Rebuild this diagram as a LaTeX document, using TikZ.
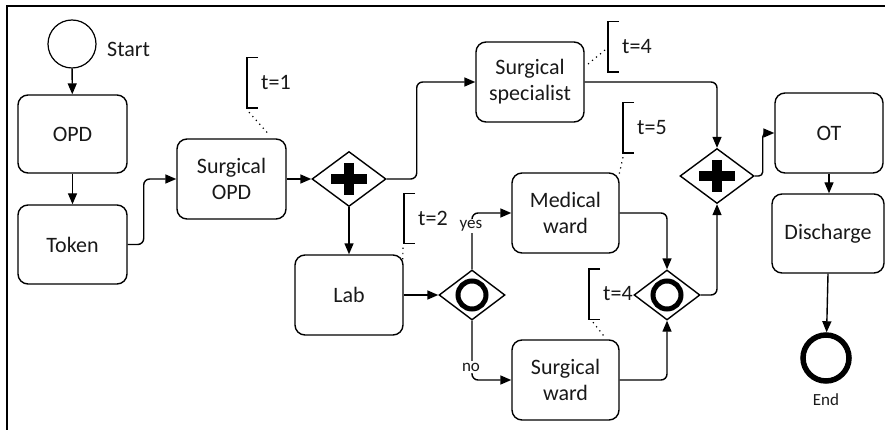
\documentclass[tikz,border=0pt]{standalone}
\usepackage{fontspec}
\setmainfont{Carlito}
\usetikzlibrary{arrows.meta,shapes.geometric,calc}
\begin{document}
\begin{tikzpicture}[x=1pt,y=-1pt,
  every node/.style={font=\fontsize{22}{26}\selectfont, align=center, text=black!90},
  task/.style={draw, rounded corners=10pt, line width=1.4pt, minimum width=108pt, minimum height=80pt, inner sep=0pt},
  gate/.style={draw, diamond, line width=1.4pt, minimum width=74pt, minimum height=55pt, inner sep=0pt},
  xgate/.style={gate, minimum width=66pt, minimum height=50pt},
  flow/.style={line width=1.4pt, -{Triangle[length=11pt,width=9pt]}, rounded corners=6pt},
  ann/.style={anchor=west, minimum height=50pt, inner xsep=14pt, inner ysep=0pt},
  bracket/.style={line width=1.4pt},
  assoc/.style={line width=1.2pt, dash pattern=on 1.2pt off 4pt},
  small/.style={font=\fontsize{17}{20}\selectfont},
  plusbar/.style={line width=10pt},
  ring/.style={line width=5pt}
]
\useasboundingbox (0,0) rectangle (885,430);
% frame
\draw[line width=2pt] (7,430) -- (7,6) -- (885,6);

% events
\node[circle, draw, line width=1.2pt, minimum size=48pt, inner sep=0pt] (start) at (72,44) {};
\node[anchor=base west, inner sep=0pt] (lstart) at (107,57) {Start};
\node[circle, draw, line width=5.5pt, minimum size=46pt, inner sep=0pt] (end) at (826,358) {};
\node[small] (lend) at (826,400) {End};

% tasks
\node[task, minimum width=109pt, minimum height=78pt] (opd) at (72.5,134) {OPD};
\node[task, minimum width=109pt, minimum height=79pt] (token) at (72.5,244.5) {Token};
\node[task, minimum width=109pt] (sopd) at (231.5,179) {Surgical\\OPD};
\node[task] (ss) at (530,82) {Surgical\\specialist};
\node[task, minimum width=107pt] (mw) at (565.5,213) {Medical\\ward};
\node[task, minimum width=107pt] (sw) at (565.5,380) {Surgical\\ward};
\node[task] (lab) at (349,295) {Lab};
\node[task] (ot) at (829,133) {OT};
\node[task, minimum width=112pt, minimum height=79pt] (dis) at (828,233.5) {Discharge};

% gateways
\node[gate] (g1) at (349,179) {};
\node[gate] (g2) at (717,176) {};
\node[xgate] (g3) at (472,295) {};
\node[xgate] (g4) at (667,295) {};
\foreach \g in {g1,g2}{
  \draw[plusbar] ($(\g)+(-18,0)$) -- ($(\g)+(18,0)$);
  \draw[plusbar] ($(\g)+(0,-16)$) -- ($(\g)+(0,16)$);
}
\foreach \g in {g3,g4}{
  \draw[ring] (\g) circle[radius=14pt];
}

% annotations
\node[ann] (a1) at (247,83) {t=1};
\node[ann] (a2) at (608,47) {t=4};
\node[ann] (a3) at (623,128) {t=5};
\node[ann] (a4) at (404,218.5) {t=2};
\node[ann] (a5) at (589,294) {t=4};
\foreach \a in {a1,a2,a3,a4,a5}{
  \draw[bracket] ([xshift=11pt]\a.north west) -- (\a.north west) -- (\a.south west) -- ([xshift=11pt]\a.south west);
}
\draw[assoc] ([shift={(2,4)}]a1.south west) -- ([shift={(-18,-4)}]sopd.north east);
\draw[assoc] ([shift={(-3,3)}]a2.west) -- ([shift={(1,-16)}]ss.east);
\draw[assoc] ([shift={(0,4)}]a3.south west) -- ([shift={(-1,4)}]mw.north east);
\draw[assoc] ([shift={(-1,4)}]a4.south west) -- ([shift={(-1,8)}]lab.north east);
\draw[assoc] ([shift={(4,3)}]a5.south west) -- ([shift={(-14,-1)}]sw.north east);

% flows
\draw[flow] (start) -- (opd);
\draw[flow] (opd) -- (token);
\draw[flow] (token.east) -- ++(16,0) |- (sopd.west);
\draw[flow] (sopd) -- (g1);
\draw[flow] (g1.east) -- ++(30,0) |- (ss.west);
\draw[flow] (g1) -- (lab);
\draw[flow] (ss.east) -| (g2.north);
\draw[flow, rounded corners=4pt] (g2.east) -- ++(8,0) |- (ot.west);
\draw[flow] (ot.south) -- (ot.south |- dis.north);
\draw[flow] (dis.south) -- (end);
\draw[flow] (lab) -- (g3);
\draw[flow] (g3.north) |- (mw.west);
\draw[flow] (g3.south) |- (sw.west);
\draw[flow] (mw.east) -| (g4.north);
\draw[flow] (sw.east) -| (g4.south);
\draw[flow] (g4.east) -| (g2.south);
\node[small, fill=white, inner sep=2pt] (lyes) at (471,226) {yes};
\node[small, fill=white, inner sep=2pt] (lno) at (471,367) {no};
\end{tikzpicture}
\end{document}
